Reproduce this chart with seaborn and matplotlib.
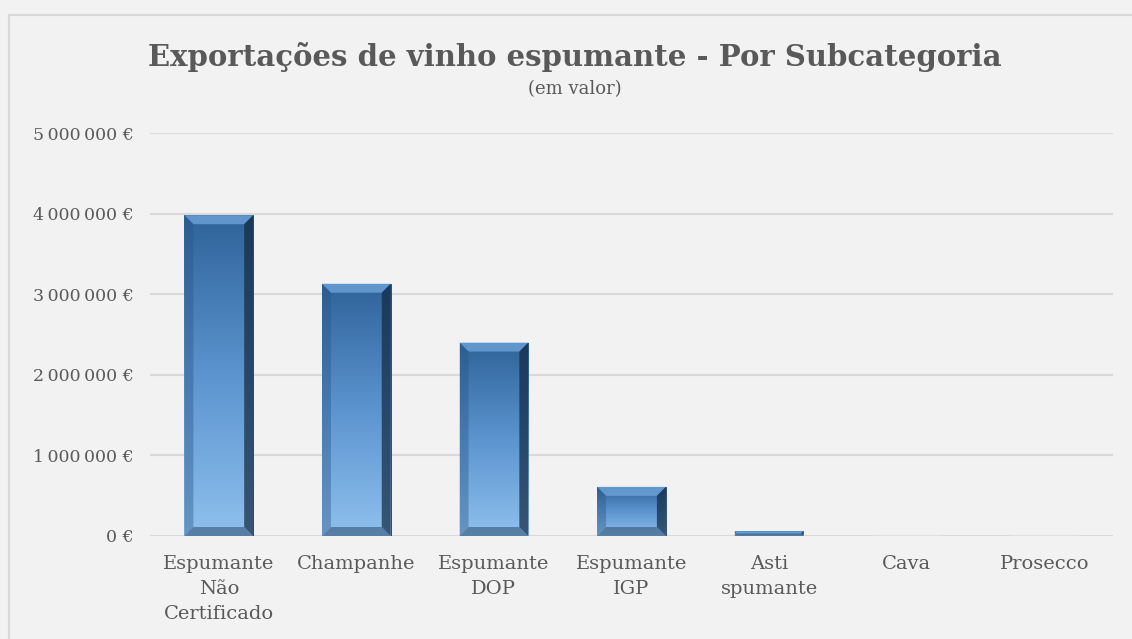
import numpy as np
import pandas as pd
import seaborn as sns
import matplotlib.pyplot as plt
from matplotlib.patches import Polygon, Rectangle
from matplotlib.colors import LinearSegmentedColormap

# Data
categories = ['Espumante\nNão\nCertificado', 'Champanhe', 'Espumante\nDOP',
              'Espumante\nIGP', 'Asti\nspumante', 'Cava', 'Prosecco']
values = [3980000, 3130000, 2400000, 610000, 60000, 0, 0]
yticks = [0, 1000000, 2000000, 3000000, 4000000, 5000000]

df = pd.DataFrame({'cat': categories, 'val': values})

sns.set_theme(style='white')
plt.rcParams['font.family'] = ['DejaVu Serif', 'DejaVu Sans']

bg = '#f2f2f2'
fig = plt.figure(figsize=(11.32, 6.39), dpi=100, facecolor=bg)
ax = fig.add_axes([150 / 1132, 1 - 536 / 639, (1113 - 150) / 1132, (536 - 133) / 639])
ax.set_facecolor(bg)

sns.barplot(data=df, x='cat', y='val', color='#4a80bb', width=0.5, ax=ax,
            saturation=1, zorder=3)

ax.set_ylim(0, 5000000)
ax.set_xlim(-0.5, len(categories) - 0.5)
ax.set_yticks(yticks)
ax.set_yticklabels([f'{v:,.0f} €'.replace(',', '\u2009') if v else '0 €' for v in yticks])
ax.yaxis.grid(True, color='#d9d9d9', lw=1.5, zorder=0)
ax.set_axisbelow(True)
for s in ax.spines.values():
    s.set_visible(False)
ax.set_xlabel('')
ax.set_ylabel('')
ax.tick_params(axis='y', length=0, pad=12, labelsize=12.5, labelcolor='#595959')
ax.tick_params(axis='x', length=0, pad=14, labelsize=14, labelcolor='#595959')
for t in ax.get_xticklabels():
    t.set_linespacing(1.5)

# Bevel / gradient styling for each bar
cmap = LinearSegmentedColormap.from_list('b', ['#8fc0ee', '#5b94cf', '#2f6399'])
grad = np.linspace(0, 1, 256).reshape(-1, 1)
px_x = 1 / 137.6
px_y = 5000000 / 403
for p in list(ax.patches):
    x, w, h = p.get_x(), p.get_width(), p.get_height()
    if h <= 0:
        continue
    p.set_edgecolor('#1f3d5e')
    p.set_linewidth(0.6)
    im = ax.imshow(grad, extent=[x, x + w, 0, h], aspect='auto', cmap=cmap,
                   origin='lower', zorder=3.1, interpolation='bicubic')
    im.set_clip_path(p)
    by = min(9 * px_y, h / 2)
    bx = min(9 * px_x, by / px_y * px_x)
    # top bevel (light)
    ax.add_patch(Polygon([[x, h], [x + w, h], [x + w - bx, h - by], [x + bx, h - by]],
                         closed=True, fc='#6ea3da', ec='none', alpha=0.8, zorder=3.2))
    # bottom bevel
    ax.add_patch(Polygon([[x, 0], [x + w, 0], [x + w - bx, by], [x + bx, by]],
                         closed=True, fc='#2b4a6b', ec='none', alpha=0.55, zorder=3.2))
    # left bevel
    ax.add_patch(Polygon([[x, 0], [x, h], [x + bx, h - by], [x + bx, by]],
                         closed=True, fc='#2a5482', ec='none', alpha=0.4, zorder=3.2))
    # right bevel (dark)
    ax.add_patch(Polygon([[x + w, 0], [x + w, h], [x + w - bx, h - by], [x + w - bx, by]],
                         closed=True, fc='#122840', ec='none', alpha=0.7, zorder=3.2))

# Titles
fig.text(0.508, 1 - 57 / 639, 'Exportações de vinho espumante - Por Subcategoria',
         ha='center', va='center', fontsize=21, fontweight='bold', color='#595959')
fig.text(0.508, 1 - 89 / 639, '(em valor)', ha='center', va='center',
         fontsize=13, color='#595959')

# Chart frame
fig.patches.append(Rectangle((9 / 1132, -0.05), 1.1, 1 - 15 / 639 + 0.05,
                             transform=fig.transFigure, fill=False,
                             ec='#d9d9d9', lw=1.5))

fig.savefig('out.png', dpi=100, facecolor=bg)
